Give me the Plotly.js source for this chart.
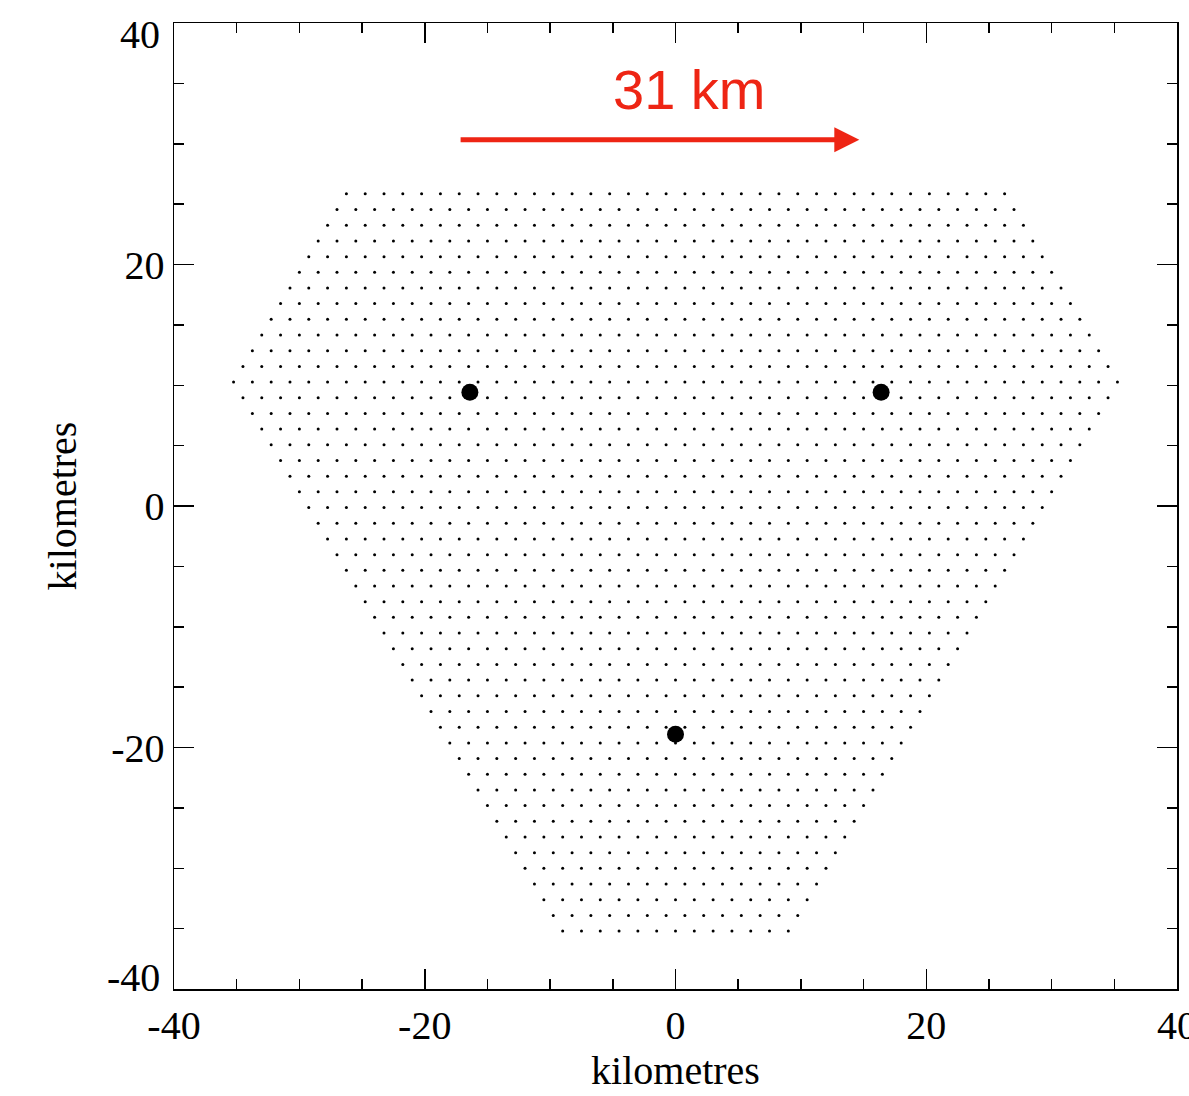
<!DOCTYPE html>
<html>
<head>
<meta charset="utf-8">
<script src="https://cdn.plot.ly/plotly-3.0.1.min.js"></script>
<style>html,body{margin:0;padding:0;background:#fff;}#chart{width:1189px;height:1096px;}</style>
</head>
<body>
<div id="chart"></div>
<script>
// Grid rows of the hexagonal point lattice (km)
const latticeSpacing = 1.5;
const rowY = [25.85, 24.55, 23.25, 21.95, 20.65, 19.36, 18.06, 16.76, 15.46, 14.16, 12.86, 11.56, 10.26,
  8.96, 7.66, 6.37, 5.07, 3.77, 2.47, 1.17, -0.13, -1.43, -2.73, -4.03, -5.33, -6.63, -7.92, -9.22,
  -10.52, -11.82, -13.12, -14.42, -15.72, -17.02, -18.32, -19.62, -20.91, -22.21, -23.51, -24.81,
  -26.11, -27.41, -28.71, -30.01, -31.31, -32.61, -33.91, -35.20];
const rowHalfWidth = [26.25, 27, 27.75, 28.5, 29.25, 30, 30.75, 31.5, 32.25, 33, 33.75, 34.5, 35.25,
  34.5, 33.75, 33, 32.25, 31.5, 30.75, 30, 29.25, 28.5, 27.75, 27, 26.25, 25.5, 24.75, 24, 23.25,
  22.5, 21.75, 21, 20.25, 19.5, 18.75, 18, 17.25, 16.5, 15.75, 15, 14.25, 13.5, 12.75, 12, 11.25,
  10.5, 9.75, 9];

// Stations
const stationX = [-16.4, 16.4, 0];
const stationY = [9.42, 9.42, -18.9];

// Arrow and label
const arrowStartX = -17.26, arrowEndX = 14.66, arrowY = 30.33;
const arrowLabel = '31 km';
const labelX = 1.1, labelY = 34.5;

// Axis ticks
const tickVals = [-40, -20, 0, 20, 40];
const tickText = ['-40', '-20', '0', '20', '40'];

const gx = [], gy = [];
rowY.forEach((y, i) => {
  const w = rowHalfWidth[i];
  const n = Math.round(2 * w / latticeSpacing);
  for (let k = 0; k <= n; k++) { gx.push(-w + k * latticeSpacing); gy.push(y); }
});

const red = 'rgb(238,37,20)';
const serif = 'Liberation Serif, Times New Roman, serif';
const tickFont = {family: serif, size: 40, color: '#000'};

const traces = [
  {x: gx, y: gy, mode: 'markers', type: 'scatter', marker: {size: 3, color: '#000'}, hoverinfo: 'skip'},
  {x: stationX, y: stationY, mode: 'markers', type: 'scatter', marker: {size: 17, color: '#000'}}
];

const axisCommon = {
  range: [-40, 40], showgrid: false, zeroline: false, showline: true, linecolor: '#000', linewidth: 1.5,
  mirror: 'ticks', ticks: 'inside', ticklen: 20, tickwidth: 1.5, tickcolor: '#000',
  tickmode: 'array', tickvals: tickVals,
  tickfont: tickFont, ticklabeloverflow: 'allow',
  minor: {dtick: 5, tick0: 0, ticks: 'inside', ticklen: 10, tickwidth: 1.5, tickcolor: '#000', showgrid: false}
};

// y labels at the range ends are nudged inside the frame, as in the original
const yEdge = [0, tickVals.length - 1];
const yTickText = tickText.map((t, i) => yEdge.includes(i) ? '' : t);
const edgeAnnotations = yEdge.map(i => ({
  x: 0, xref: 'paper', y: tickVals[i], yref: 'y', text: tickText[i], showarrow: false,
  xanchor: 'right', yanchor: 'middle', xshift: -12, yshift: tickVals[i] > 0 ? -11 : 12,
  font: tickFont
}));

const layout = {
  width: 1189, height: 1096,
  margin: {l: 174, r: 12, t: 23, b: 107},
  paper_bgcolor: '#fff', plot_bgcolor: '#fff',
  showlegend: false,
  xaxis: Object.assign({}, axisCommon, {ticktext: tickText,
    title: {text: 'kilometres', font: {family: serif, size: 40, color: '#000'}, standoff: 4}}),
  yaxis: Object.assign({}, axisCommon, {ticktext: yTickText,
    title: {text: 'kilometres', font: {family: serif, size: 40, color: '#000'}, standoff: 22}}),
  annotations: [
    {x: arrowEndX, y: arrowY, ax: arrowStartX, ay: arrowY, xref: 'x', yref: 'y', axref: 'x', ayref: 'y',
     text: '', showarrow: true, arrowhead: 2, arrowsize: 1, arrowwidth: 5, arrowcolor: red},
    {x: labelX, y: labelY, xref: 'x', yref: 'y', text: arrowLabel, showarrow: false,
     font: {family: 'Liberation Sans, Arial, sans-serif', size: 56, color: red}, xanchor: 'center', yanchor: 'middle'}
  ].concat(edgeAnnotations)
};

Plotly.newPlot('chart', traces, layout, {displayModeBar: false, staticPlot: true});
</script>
</body>
</html>
